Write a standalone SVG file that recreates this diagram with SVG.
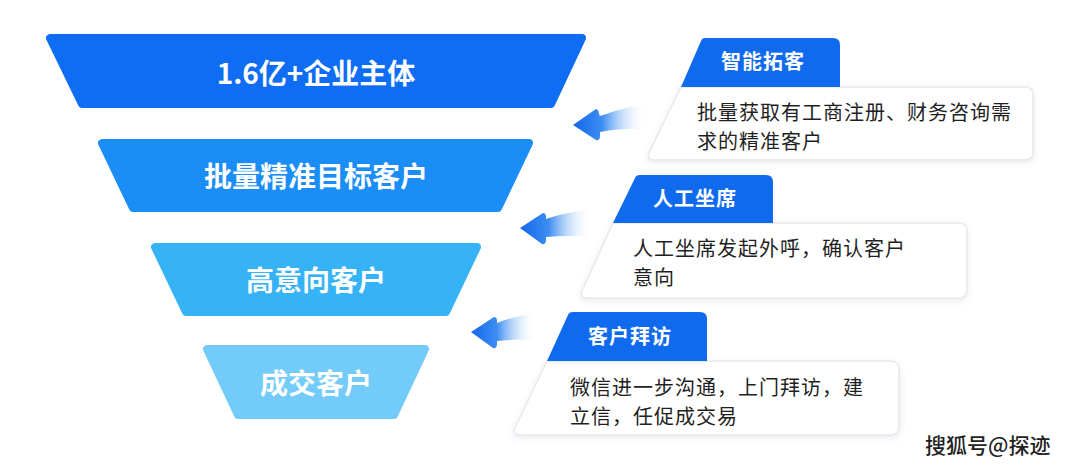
<svg xmlns="http://www.w3.org/2000/svg" width="1080" height="474" viewBox="0 0 1080 474">
  <defs>
    <linearGradient id="arrowGrad" x1="0" y1="0" x2="1" y2="0">
      <stop offset="0" stop-color="#1565EC"/>
      <stop offset="0.4" stop-color="#3D8EF2"/>
      <stop offset="1" stop-color="#FFFFFF" stop-opacity="0"/>
    </linearGradient>
    <filter id="cardShadow" x="-10%" y="-20%" width="120%" height="150%">
      <feDropShadow dx="0" dy="2" stdDeviation="3" flood-color="#5a6a85" flood-opacity="0.14"/>
    </filter>
    <style>
      .trap { stroke-linejoin: round; stroke-width: 8; }
      .ftxt { font-family: "Noto Sans CJK SC", "Noto Sans", sans-serif; font-weight: 700; font-size: 28px; fill: #FFFFFF; text-anchor: middle; }
      .tab { fill: #0F6AEE; }
      .tabtxt { font-family: "Noto Sans CJK SC", "Noto Sans", sans-serif; font-weight: 700; font-size: 20px; fill: #FFFFFF; text-anchor: middle; letter-spacing: 1px; }
      .body { fill: #FFFFFF; stroke: #E6E9EE; stroke-width: 1.5; filter: url(#cardShadow); }
      .btxt { font-family: "Noto Sans CJK SC", "Noto Sans", sans-serif; font-size: 20px; fill: #1F1F1F; letter-spacing: 1px; }
      .arrow { fill: url(#arrowGrad); }
      .wm { font-family: "Noto Sans CJK SC", "Noto Sans", sans-serif; font-weight: 500; font-size: 21px; fill: #222222; stroke: #FFFFFF; stroke-width: 3; paint-order: stroke; }
    </style>
  </defs>
  <rect width="1080" height="474" fill="#FFFFFF"/>

  <g id="funnel-1">
    <polygon class="trap" fill="#0F6DF4" stroke="#0F6DF4" points="50,38 582,38 551,104 82,104"/>
    <text class="ftxt" x="316" y="84">1.6亿+企业主体</text>
  </g>
  <g id="funnel-2">
    <polygon class="trap" fill="#1A8DF6" stroke="#1A8DF6" points="102,143 529,143 498,208 133,208"/>
    <text class="ftxt" x="316" y="187">批量精准目标客户</text>
  </g>
  <g id="funnel-3">
    <polygon class="trap" fill="#36B3F6" stroke="#36B3F6" points="155,247 477,247 446,312 186,312"/>
    <text class="ftxt" x="316" y="291">高意向客户</text>
  </g>
  <g id="funnel-4">
    <polygon class="trap" fill="#72CBF9" stroke="#72CBF9" points="207,349 425,349 394,415 238,415"/>
    <text class="ftxt" x="316" y="394">成交客户</text>
  </g>

  <g id="card-1">
    <path class="body" d="M681,87 H1025 Q1033,87 1033,95 V152 Q1033,160 1025,160 H654 Q646,160 649,153 Z"/>
    <path class="tab" d="M705,38 H833 Q840,38 840,45 V87 H681 L701,41 Q702,38 705,38 Z"/>
    <text class="tabtxt" x="763" y="69">智能拓客</text>
    <text class="btxt" x="697" y="120">批量获取有工商注册、财务咨询需</text>
    <text class="btxt" x="697" y="149">求的精准客户</text>
  </g>

  <g id="card-2">
    <path class="body" d="M613,223 H959 Q967,223 967,231 V290 Q967,298 959,298 H587 Q579,298 582,291 Z"/>
    <path class="tab" d="M640,175 H766 Q773,175 773,182 V223 H613 L635,178 Q636,175 640,175 Z"/>
    <text class="tabtxt" x="695" y="206">人工坐席</text>
    <text class="btxt" x="633" y="256">人工坐席发起外呼，确认客户</text>
    <text class="btxt" x="633" y="285">意向</text>
  </g>

  <g id="card-3">
    <path class="body" d="M547,361 H891 Q899,361 899,369 V427 Q899,435 891,435 H520 Q512,435 515,428 Z"/>
    <path class="tab" d="M573,312 H700 Q707,312 707,319 V361 H547 L568,315 Q569,312 573,312 Z"/>
    <text class="tabtxt" x="630" y="344">客户拜访</text>
    <text class="btxt" x="570" y="395">微信进一步沟通，上门拜访，建</text>
    <text class="btxt" x="570" y="424">立信，任促成交易</text>
  </g>

  <g id="connectors">
    <path class="arrow" d="M573,125 L596,109 Q599,110 599,114 L600,116 C615,111 630,106 646,104 L646,130 C630,128 615,129 600,132 L600,137 Q599,141 596,140 Z"/>
    <path class="arrow" d="M520,228 L543,213 Q546,213 546,217 L546,219 C561,214 576,211 592,209 L592,238 C576,235 561,236 546,237 L546,241 Q545,245 542,244 Z"/>
    <path class="arrow" d="M471,332 L494,317 Q497,317 497,321 L497,323 C510,318 522,315 536,313 L536,341 C522,339 510,340 497,341 L497,345 Q496,349 493,348 Z"/>
  </g>

  <text class="wm" x="925" y="453">搜狐号@探迹</text>
</svg>
